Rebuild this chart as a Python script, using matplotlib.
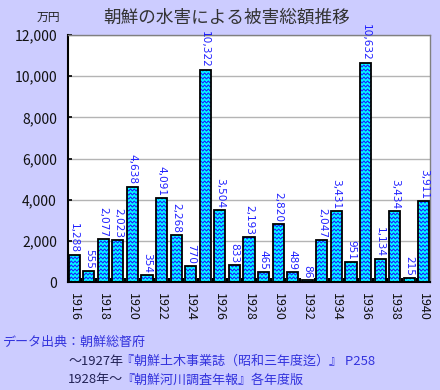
import warnings

import numpy as np
import matplotlib

matplotlib.use("Agg")
import matplotlib.pyplot as plt
import matplotlib.hatch as mhatch
from matplotlib.path import Path

warnings.filterwarnings("ignore")

plt.rcParams["font.family"] = ["Noto Sans CJK JP", "DejaVu Sans"]
plt.rcParams["hatch.linewidth"] = 0.7

years = list(range(1916, 1941))
damage = [1288, 555, 2077, 2023, 4638, 354, 4091, 2268, 770, 10322,
          3504, 833, 2193, 465, 2820, 489, 86, 2047, 3431, 951,
          10632, 1134, 3434, 215, 3911]
ytick_values = [0, 2000, 4000, 6000, 8000, 10000, 12000]
xtick_years = list(range(1916, 1941, 2))

TITLE = "朝鮮の水害による被害総額推移"
UNIT = "万円"
SOURCE_LINES = [
    [("データ出典：朝鮮総督府", "#3333DD")],
    [("～1927年", "#222255"), ("『朝鮮土木事業誌（昭和三年度迄）』 P258", "#3333DD")],
    [("1928年～", "#222255"), ("『朝鮮河川調査年報』各年度版", "#3333DD")],
]

BG = "#CCCCFF"


class WaveHatch(mhatch.HatchPatternBase):
    """Wavy horizontal lines, used for hatch='~'."""

    def __init__(self, hatch, density):
        self.rows = 25
        self.periods = 27
        self.pts = self.periods * 8 + 1
        self.num_vertices = self.rows * self.pts if "~" in hatch else 0

    def set_vertices_and_codes(self, vertices, codes):
        xs = np.linspace(0.0, 1.0, self.pts)
        wave = 0.01 * np.sin(2 * np.pi * self.periods * xs)
        for i in range(self.rows):
            sl = slice(i * self.pts, (i + 1) * self.pts)
            vertices[sl, 0] = xs
            vertices[sl, 1] = (i + 0.5) / self.rows + wave
            codes[sl] = Path.LINETO
            codes[i * self.pts] = Path.MOVETO


mhatch._hatch_types.append(WaveHatch)

fig = plt.figure(figsize=(4.4, 3.9), dpi=100, facecolor=BG)
ax = fig.add_axes([68 / 440, 1 - 282 / 390, 362 / 440, 247 / 390])
ax.set_facecolor("white")

x = np.arange(len(years))
w = 0.76
ax.bar(x, damage, width=w, color="#00FFFF", edgecolor="#2020FF", linewidth=0,
       hatch="~", zorder=2)
ax.bar(x, damage, width=w, fill=False, edgecolor="black", linewidth=1.3, zorder=3)

for xi, v in zip(x, damage):
    ax.text(xi, v + 100, f"{v:,}", rotation=270, ha="center", va="bottom",
            color="#2020FF", fontsize=7.6, zorder=4,
            family=["Liberation Sans Narrow", "DejaVu Sans"])

ax.set_xlim(-0.42, len(years) - 1 + 0.42)
ax.set_ylim(0, 12000)
ax.set_yticks(ytick_values)
ax.set_yticklabels([f"{v:,}" for v in ytick_values], fontsize=10, color="#111111")
ax.set_xticks([years.index(yr) for yr in xtick_years])
ax.set_xticklabels([str(yr) for yr in xtick_years], rotation=270, fontsize=9,
                   color="#111111")
ax.set_xticks(np.arange(0.5, len(years) - 1, 1.0), minor=True)
ax.tick_params(axis="x", which="major", length=0, pad=8)
ax.tick_params(axis="x", which="minor", direction="in", length=3, width=1.5)
ax.tick_params(axis="y", direction="in", length=3, width=1.2, pad=8)

ax.grid(axis="y", color="#B4B4B4", linewidth=1, zorder=0)
ax.set_axisbelow(True)
for side in ("left", "bottom"):
    ax.spines[side].set_color("black")
    ax.spines[side].set_linewidth(1.5)
for side in ("top", "right"):
    ax.spines[side].set_color("#808080")
    ax.spines[side].set_linewidth(1)

fig.text(227 / 440, 1 - 18 / 390, TITLE, ha="center", va="center",
         fontsize=12.7, color="#333333")
fig.text(48 / 440, 1 - 17 / 390, UNIT, ha="center", va="center",
         fontsize=8.5, color="#222222")

renderer = fig.canvas.get_renderer()
line_pos = [(3, 342), (68, 361), (68, 380)]
for (px, py), parts in zip(line_pos, SOURCE_LINES):
    xf = px / 440
    for s, c in parts:
        t = fig.text(xf, 1 - py / 390, s, ha="left", va="center",
                     fontsize=9.4, color=c)
        bb = t.get_window_extent(renderer)
        xf = fig.transFigure.inverted().transform((bb.x1 - 2, bb.y0))[0]

fig.savefig("out.png", dpi=100, facecolor=BG)
